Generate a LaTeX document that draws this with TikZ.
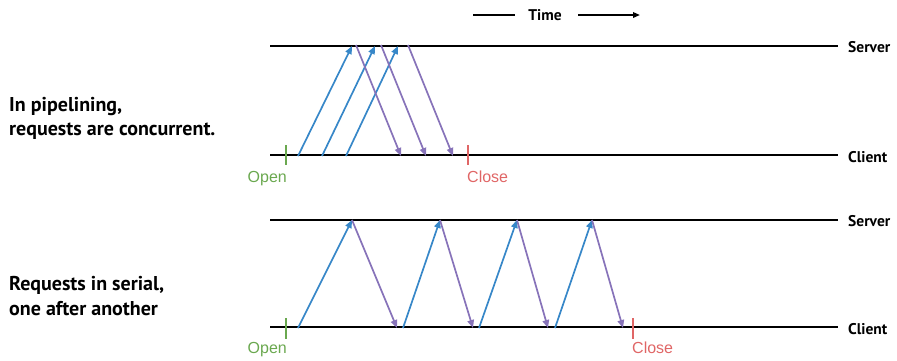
\documentclass[tikz,border=0pt]{standalone}
\usepackage{fontspec}
\setmainfont{Liberation Sans}
\newfontfamily\lblfont{PT Sans}
\usetikzlibrary{arrows.meta}
\definecolor{reqblue}{RGB}{55,135,200}
\definecolor{resppurple}{RGB}{135,115,185}
\definecolor{opengreen}{RGB}{106,168,79}
\definecolor{closered}{RGB}{224,102,102}
\tikzset{
  timeline/.style={line width=2.3pt},
  req/.style={reqblue, line width=1.7pt, -{Triangle[length=8pt,width=6.5pt]}},
  resp/.style={resppurple, line width=1.7pt, -{Triangle[length=8pt,width=6.5pt]}},
  opentick/.style={opengreen, line width=2.2pt},
  closetick/.style={closered, line width=2.2pt},
  endlabel/.style={font=\lblfont\bfseries\fontsize{15.5}{18}\selectfont, anchor=west, inner sep=0pt},
  sidelabel/.style={font=\lblfont\bfseries\fontsize{20}{25}\selectfont, anchor=base west, inner sep=0pt},
  opentext/.style={opengreen, font=\fontsize{16}{18}\selectfont, inner sep=0pt},
  closetext/.style={closered, font=\fontsize{16}{18}\selectfont, inner sep=0pt},
}
\begin{document}
\begin{tikzpicture}[x=1pt,y=-1pt]
\useasboundingbox (0,0) rectangle (897,360);
% Time
\node[font=\lblfont\bfseries\fontsize{15.5}{18}\selectfont, inner sep=0pt] (time) at (545,15) {Time};
\coordinate (tl) at (473,15);
\coordinate (tl2) at (515,15);
\coordinate (tr1) at (578,15);
\coordinate (tr) at (640,15);
\draw[line width=1.7pt] (tl) -- (tl2);
\draw[line width=1.7pt, -{Triangle[length=7pt,width=5.5pt]}] (tr1) -- (tr);

% ---------- top: pipelining ----------
\coordinate (s1a) at (270,46); \coordinate (s1b) at (838,46);
\coordinate (c1a) at (270,155); \coordinate (c1b) at (838,155);
\draw[timeline] (s1a) -- (s1b);
\draw[timeline] (c1a) -- (c1b);
\node[endlabel] (srv1) at (848,47) {Server};
\node[endlabel] (cli1) at (848,157) {Client};
\node[sidelabel] (lab1a) at (9,111) {In pipelining,};
\node[sidelabel] (lab1b) at (9,135) {requests are concurrent.};
\coordinate (o1t) at (286,145); \coordinate (o1b) at (286,165);
\coordinate (x1t) at (468,145); \coordinate (x1b) at (468,165);
\draw[opentick] (o1t) -- (o1b);
\draw[closetick] (x1t) -- (x1b);
\node[opentext, anchor=north east] (open1) at (287,171) {Open};
\node[closetext, anchor=north west] (close1) at (467,171) {Close};
% requests
\coordinate (p1) at (298,156); \coordinate (q1) at (352,46);
\coordinate (p2) at (322,156); \coordinate (q2) at (375,46);
\coordinate (p3) at (346,156); \coordinate (q3) at (398,46);
\draw[req] (p1) -- (q1);
\draw[req] (p2) -- (q2);
\draw[req] (p3) -- (q3);
% responses
\coordinate (r1) at (356,45); \coordinate (t1) at (401,156);
\coordinate (r2) at (381,45); \coordinate (t2) at (426,156);
\coordinate (r3) at (408,45); \coordinate (t3) at (453,156);
\draw[resp] (r1) -- (t1);
\draw[resp] (r2) -- (t2);
\draw[resp] (r3) -- (t3);

% ---------- bottom: serial ----------
\coordinate (s2a) at (270,220); \coordinate (s2b) at (838,220);
\coordinate (c2a) at (270,327); \coordinate (c2b) at (838,327);
\draw[timeline] (s2a) -- (s2b);
\draw[timeline] (c2a) -- (c2b);
\node[endlabel] (srv2) at (848,221) {Server};
\node[endlabel] (cli2) at (848,329) {Client};
\node[sidelabel] (lab2a) at (9,290) {Requests in serial,};
\node[sidelabel] (lab2b) at (9,315) {one after another};
\coordinate (o2t) at (286,318); \coordinate (o2b) at (286,339);
\coordinate (x2t) at (633,318); \coordinate (x2b) at (633,339);
\draw[opentick] (o2t) -- (o2b);
\draw[closetick] (x2t) -- (x2b);
\node[opentext, anchor=north east] (open2) at (287,342) {Open};
\node[closetext, anchor=north west] (close2) at (632,342) {Close};
% serial exchanges
\coordinate (a1) at (298,328); \coordinate (b1) at (352,220); \coordinate (d1) at (397,328);
\coordinate (a2) at (403,328); \coordinate (b2) at (440,220); \coordinate (d2) at (473,328);
\coordinate (a3) at (479,328); \coordinate (b3) at (517,220); \coordinate (d3) at (548,328);
\coordinate (a4) at (555,328); \coordinate (b4) at (592,220); \coordinate (d4) at (623,328);
\draw[req] (a1) -- (b1); \draw[resp] (b1) -- (d1);
\draw[req] (a2) -- (b2); \draw[resp] (b2) -- (d2);
\draw[req] (a3) -- (b3); \draw[resp] (b3) -- (d3);
\draw[req] (a4) -- (b4); \draw[resp] (b4) -- (d4);
\end{tikzpicture}
\end{document}
